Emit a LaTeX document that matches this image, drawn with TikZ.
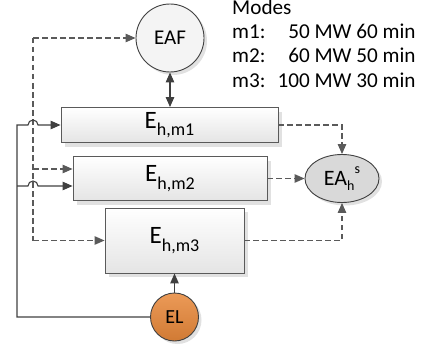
\documentclass[tikz,border=0pt]{standalone}
\usepackage{fontspec}
\setmainfont{Carlito}
\usetikzlibrary{arrows.meta,shapes.geometric,shadows}
\definecolor{customcolor1}{HTML}{404040}
\definecolor{customcolor2}{HTML}{5A5A5A}
\definecolor{customcolor3}{HTML}{E8883A}
\definecolor{customcolor4}{HTML}{D9D9D9}
\definecolor{customcolor5}{HTML}{F4F4F4}
\tikzset{
    modebox/.style = {draw = customcolor2, line width = 0.9pt, rectangle, inner sep = 0pt,
        top color = white, bottom color = customcolor4!70,
        drop shadow = {shadow xshift = 4pt, shadow yshift = -4pt, fill = customcolor4, opacity = 0.8}},
    roundbox/.style = {draw = customcolor1, line width = 0.9pt, circle, inner sep = 0pt,
        drop shadow = {shadow xshift = 3pt, shadow yshift = -3pt, fill = customcolor4, opacity = 0.8}},
    solidlink/.style = {-{Triangle[length = 10pt, width = 8.5pt]}, line width = 1.1pt, color = customcolor1},
    dashlink/.style = {-{Triangle[length = 10pt, width = 8.5pt]}, line width = 1.1pt, color = customcolor2,
        dash pattern = on 5.5pt off 3.5pt}
}
\newcommand{\ebox}[1]{\fontsize{25}{25}\selectfont E\raisebox{-0.3em}{\fontsize{18}{18}\selectfont h,#1}}

\begin{document}
\begin{tikzpicture}[x = 1pt, y = 1pt]
        \useasboundingbox (0, 0) rectangle (423, -345);

        % Nodes
        \node [roundbox, fill = customcolor5, minimum size = 68pt] (eaf) at (170, -38) {\fontsize{21}{21}\selectfont EAF};
        \node [modebox, minimum width = 217pt, minimum height = 35pt] (b1) at (169.5, -125) {\ebox{m1}};
        \node [modebox, minimum width = 194pt, minimum height = 44pt] (b2) at (170, -178.5) {\ebox{m2}};
        \node [modebox, minimum width = 139pt, minimum height = 65pt] (b3) at (174.5, -240.5) {\ebox{m3}};
        \node [roundbox, ellipse, fill = customcolor4, minimum width = 74pt, minimum height = 48pt] (ea) at (342, -178.5)
            {\fontsize{22}{22}\selectfont EA\raisebox{-0.25em}{\fontsize{14}{14}\selectfont h}\raisebox{0.55em}{\fontsize{14}{14}\selectfont s}};
        \node [roundbox, top color = customcolor3!85!white, bottom color = customcolor3!90!black, minimum size = 48pt] (el) at (174.5, -317)
            {\fontsize{20}{20}\selectfont EL};

        % Modes
        \node [anchor = base west, inner sep = 0pt, align = left] (modes) at (232, -14.5) {\fontsize{21.2}{24.2}\selectfont
            \begin{tabular}[t]{@{}l@{\hspace{12pt}}r@{\ }l@{}}
                \multicolumn{3}{@{}l@{}}{Modes} \\
                m1: & 50 & MW 60 min \\
                m2: & 60 & MW 50 min \\
                m3: & 100 & MW 30 min
            \end{tabular}};

        % Corners of the links
        \coordinate (dtop) at (33, -38);
        \coordinate (dmid) at (33, -169);
        \coordinate (dbot) at (33, -240.5);
        \coordinate (s1) at (17, -125);
        \coordinate (s2) at (17, -186);

        % Draw the links
        \draw [dashlink] (dtop) -- (eaf.west);
        \draw [dashlink, -] (dtop) -- (dbot);
        \draw [dashlink] (dmid) -- (dmid -| b2.west);
        \draw [dashlink] (dbot) -- (b3.west);
        \draw [solidlink, {Triangle[length = 10pt, width = 8.5pt]}-{Triangle[length = 10pt, width = 8.5pt]}] (eaf.south) -- (eaf.south |- b1.north);
        \draw [solidlink] (el.west) -| (s1) -- ++(11, 0) arc (180:0:5) -- (b1.west);
        \draw [solidlink] (s2) -- ++(11, 0) arc (180:0:5) -- (s2 -| b2.west);
        \draw [solidlink] (el.north) -- (el.north |- b3.south);
        \draw [dashlink] (b1.east) -| (ea.north);
        \draw [dashlink] (b2.east) -- (ea.west);
        \draw [dashlink] (b3.east) -| (ea.south);

    \end{tikzpicture}
\end{document}
